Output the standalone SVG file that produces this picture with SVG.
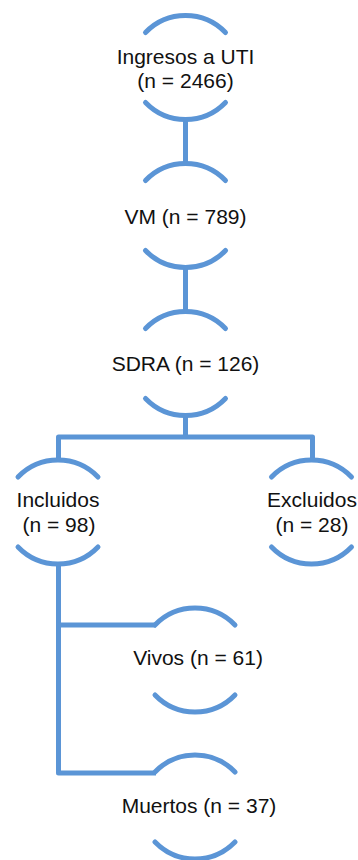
<svg xmlns="http://www.w3.org/2000/svg" xmlns:xlink="http://www.w3.org/1999/xlink" width="358" height="860" viewBox="0 0 358 860">
<style>
.arc{fill:none;stroke:#5b95d6;stroke-width:5;stroke-linecap:round}
.con{fill:none;stroke:#5b95d6;stroke-width:5;stroke-linejoin:round}
text{font-family:"Liberation Sans",Arial,Helvetica,sans-serif;font-size:21px;fill:#111;text-anchor:middle}
</style>
<defs>
<path id="arcTop" class="arc" d="M-40,17 A55.6,55.6 0 0 1 40,17"/>
<path id="arcBot" class="arc" d="M-40,87 A55.6,55.6 0 0 0 40,87"/>
</defs>
<rect width="358" height="860" fill="#fff"/>
<g id="connectors">
<path class="con" d="M185.5,119 V164"/>
<path class="con" d="M185.5,267 V312"/>
<path class="con" d="M185.5,415 V437"/>
<path class="con" d="M58.5,461 V437 H312.5 V461"/>
<path class="con" d="M58.5,563 V773 H156"/>
<path class="con" d="M58.5,625 H156"/>
</g>
<g id="n-ingresos" transform="translate(185.5,15.5)">
<use xlink:href="#arcTop"/><use xlink:href="#arcBot"/>
<text x="0" y="48">Ingresos a UTI</text>
<text x="0" y="72">(n = 2466)</text>
</g>
<g id="n-vm" transform="translate(185.5,163.5)">
<use xlink:href="#arcTop"/><use xlink:href="#arcBot"/>
<text x="0" y="60">VM (n = 789)</text>
</g>
<g id="n-sdra" transform="translate(185.5,311.5)">
<use xlink:href="#arcTop"/><use xlink:href="#arcBot"/>
<text x="0" y="59">SDRA (n = 126)</text>
</g>
<g id="n-incluidos" transform="translate(58,460)">
<use xlink:href="#arcTop"/><use xlink:href="#arcBot"/>
<text x="0" y="47">Incluidos</text>
<text x="1" y="72">(n = 98)</text>
</g>
<g id="n-excluidos" transform="translate(311.5,460)">
<use xlink:href="#arcTop"/><use xlink:href="#arcBot"/>
<text x="0.5" y="47">Excluidos</text>
<text x="0.5" y="72">(n = 28)</text>
</g>
<g id="n-vivos" transform="translate(195,608)">
<use xlink:href="#arcTop"/><use xlink:href="#arcBot"/>
<text x="3" y="57">Vivos (n = 61)</text>
</g>
<g id="n-muertos" transform="translate(195,755)">
<use xlink:href="#arcTop"/><use xlink:href="#arcBot"/>
<text x="4" y="58">Muertos (n = 37)</text>
</g>
</svg>
